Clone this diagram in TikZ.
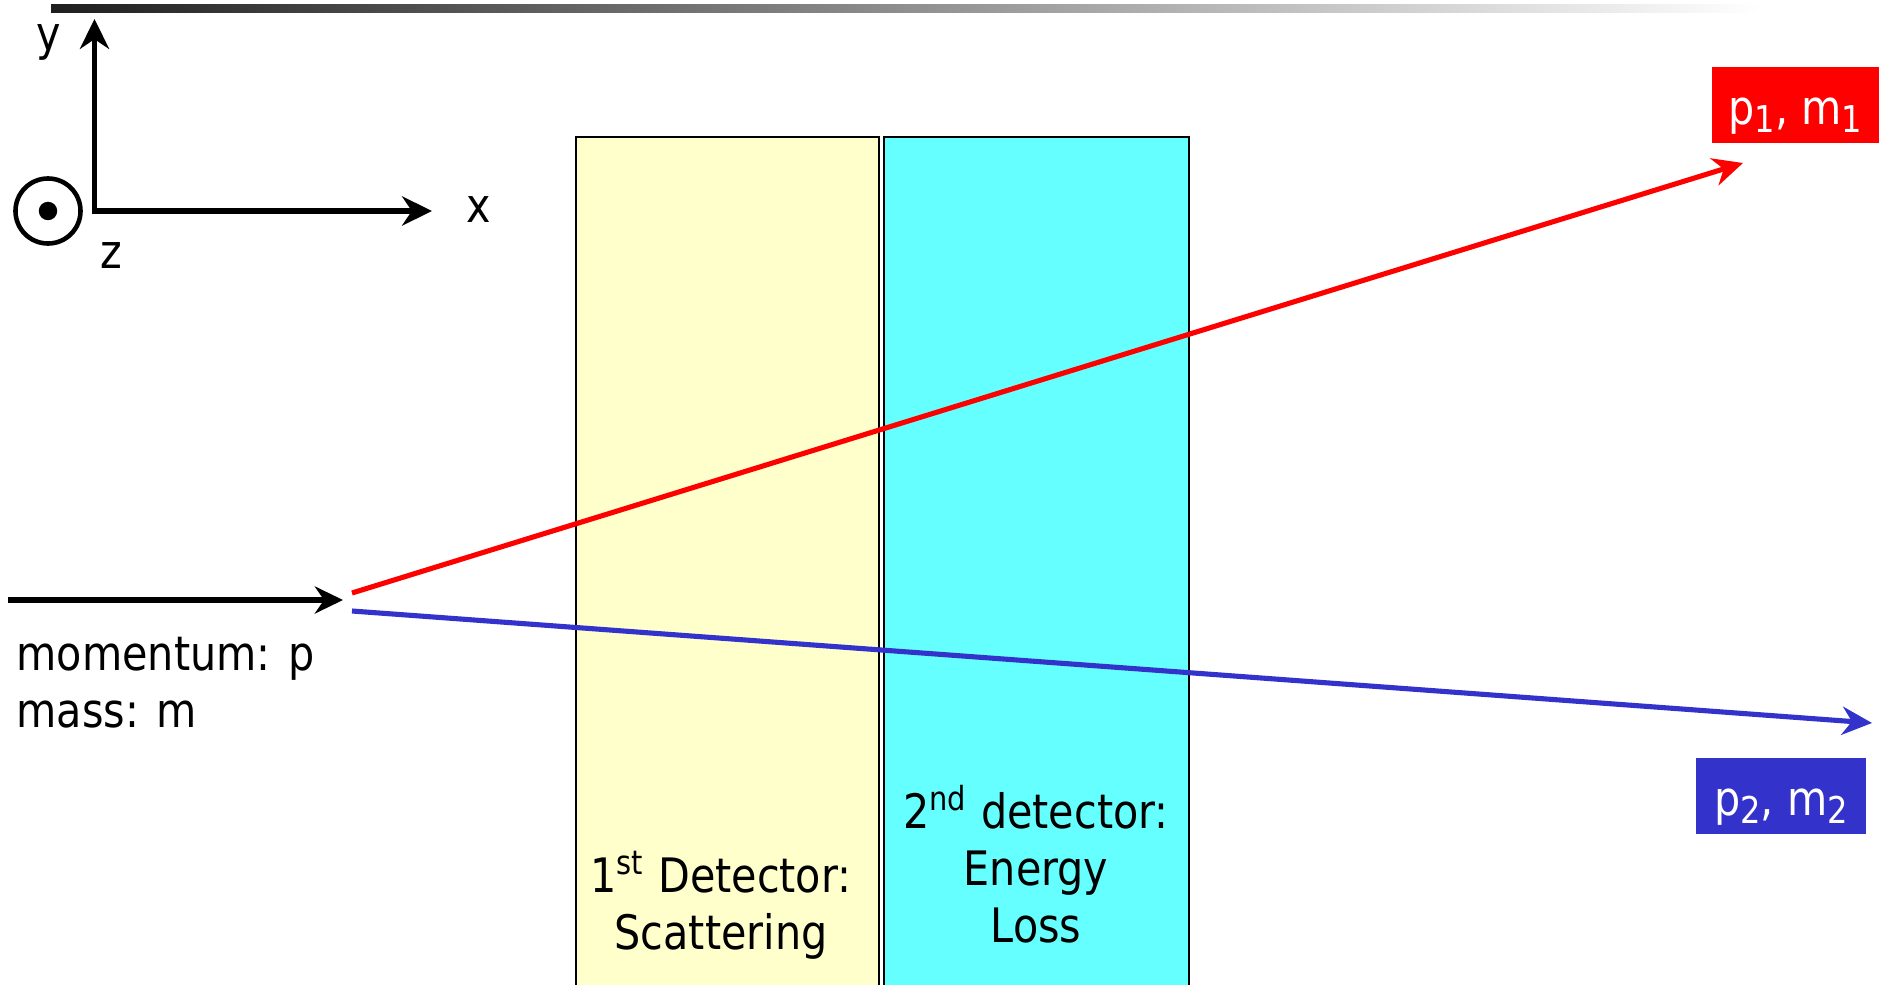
\documentclass[tikz,border=0pt]{standalone}
\usepackage{fontspec}
\setmainfont{DejaVu Sans}[FakeStretch=0.87]
\definecolor{trackred}{HTML}{FF0000}
\definecolor{trackblue}{HTML}{3333CC}
\definecolor{scatfill}{HTML}{FFFFCC}
\definecolor{lossfill}{HTML}{66FFFF}
\usetikzlibrary{arrows.meta}
\newcommand{\lowidx}[1]{\raisebox{-0.3ex}{\fontsize{10.5}{12}\selectfont #1}}

\begin{document}
\begin{tikzpicture}[x=0.01cm,y=-0.01cm,
  font=\fontsize{13.5}{16.2}\selectfont,
  axis/.style={{Stealth[length=8.5pt,width=8.3pt]}-{Stealth[length=8.5pt,width=8.3pt]},
    line width=1.45pt},
  beam/.style={-{Stealth[length=8pt,width=7.7pt]},line width=1.45pt},
  track/.style={-{Stealth[length=8.5pt,width=8pt]},line width=1.45pt},
  detector/.style={draw=black,line width=0.6pt},
  tag/.style={text=white,minimum height=0.76cm,inner sep=0pt,
    text height=15pt,text depth=4pt},
  lbl/.style={inner sep=0pt}
]
\useasboundingbox (0,0) rectangle (1879,985);
\clip (0,0) rectangle (1879,985);
\shade[left color=black!88,middle color=black!30,right color=white]
  (51,5) rectangle (1760,13);
\draw[detector,fill=scatfill] (576,137) rectangle (879,1000);
\draw[detector,fill=lossfill] (884,137) rectangle (1189,1000);
\node[lbl,align=center] (scat) at (721,905) {1\textsuperscript{st} Detector:\\Scattering};
\node[lbl,align=center] (loss) at (1036,864) {2\textsuperscript{nd} detector:\\Energy\\Loss};
\coordinate (origin) at (94.5,211);
\coordinate (ytip) at (94.5,19);
\coordinate (xtip) at (432,211);
\draw[axis] (ytip) -- (origin) -- (xtip);
\draw[line width=1.3pt] (48,211) circle [radius=0.325cm];
\fill (48,211) circle [radius=0.092cm];
\node[lbl] (ylab) at (49,42) {y};
\node[lbl] (xlab) at (479,210) {x};
\node[lbl] (zlab) at (111,256) {z};
\coordinate (beamstart) at (8,600);
\coordinate (vertex) at (343,600);
\draw[beam] (beamstart) -- (vertex);
\node[lbl,anchor=north west,align=left] (beamlab) at (16,636) {momentum: p\\mass: m};
\coordinate (split1) at (352,593);
\coordinate (out1) at (1743,163);
\draw[track,trackred] (split1) -- (out1);
\coordinate (split2) at (352,611);
\coordinate (out2) at (1872,723);
\draw[track,trackblue] (split2) -- (out2);
\node[tag,fill=trackred,minimum width=1.67cm] (tag1) at (1795.5,105)
  {p\lowidx{1}, m\lowidx{1}};
\node[tag,fill=trackblue,minimum width=1.70cm] (tag2) at (1781,796)
  {p\lowidx{2}, m\lowidx{2}};
\end{tikzpicture}
\end{document}
